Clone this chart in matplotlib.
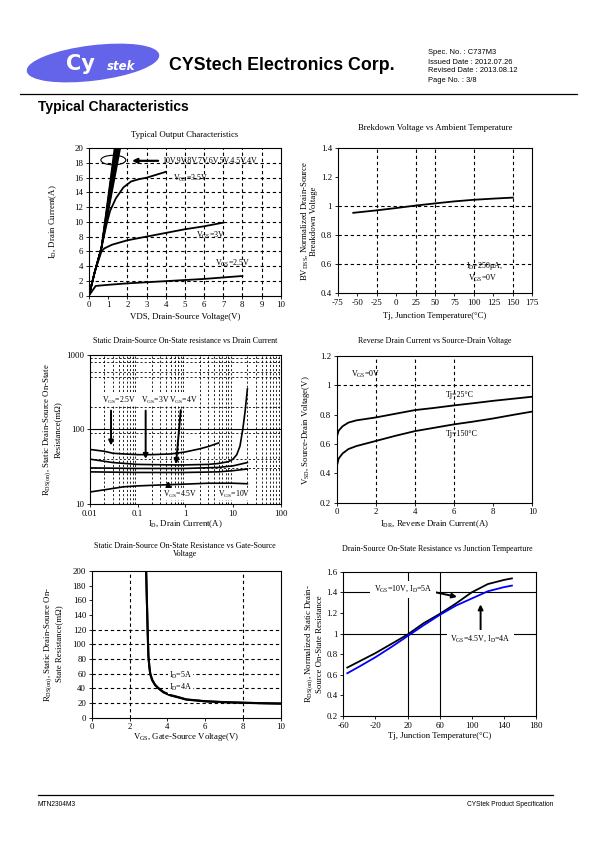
import numpy as np
import matplotlib
matplotlib.use('Agg')
import matplotlib.pyplot as plt
from matplotlib.patches import Ellipse

# 字体设置：图表用衬线体，页眉页脚用无衬线体
plt.rcParams['font.family'] = ['Liberation Serif', 'DejaVu Serif']
plt.rcParams['mathtext.fontset'] = 'custom'
plt.rcParams['mathtext.rm'] = 'Liberation Serif'
plt.rcParams['mathtext.it'] = 'Liberation Serif:italic'
plt.rcParams['mathtext.default'] = 'regular'
plt.rcParams['axes.unicode_minus'] = False

W, H = 595, 842

# ---------------- 数据 ----------------
# 1. Typical Output Characteristics
bundle_vds_start = [0, 0.3, 0.65]
bundle_id_start = [0, 3.2, 6.5]
bundle_vds_end = [1.33, 1.37, 1.41, 1.45, 1.49, 1.53, 1.58, 1.63]   # 10V ... 4V, 在 ID=20A 处
vds_35 = [0, 0.3, 0.65, 0.9, 1.1, 1.4, 1.8, 2.2, 2.6, 3.0, 3.5, 4.0]
id_35 = [0, 3.2, 6.5, 9.5, 11.5, 13.2, 14.7, 15.5, 15.8, 16.0, 16.4, 16.8]
vds_3 = [0, 0.3, 0.65, 0.8, 1.2, 2, 3, 4, 5, 6, 7]
id_3 = [0, 3.2, 6.0, 6.4, 6.9, 7.5, 8.0, 8.5, 9.0, 9.4, 9.9]
vds_25 = [0, 0.35, 1, 2, 3, 4, 5, 6, 7, 8]
id_25 = [0, 1.3, 1.45, 1.65, 1.8, 1.95, 2.1, 2.25, 2.45, 2.65]

# 2. Breakdown voltage vs temperature
tj_bv = [-55, -25, 0, 25, 50, 75, 100, 125, 150]
bv_norm = [0.955, 0.972, 0.988, 1.005, 1.02, 1.034, 1.045, 1.053, 1.06]

# 3. RDS(on) vs ID
id_r25 = [0.01, 0.02, 0.03, 0.05, 0.1, 0.2, 0.5, 1, 2, 3, 5]
r_25 = [54, 51, 48, 47, 46, 46, 47, 50, 55, 59, 66]
id_r3 = [0.01, 0.03, 0.1, 0.5, 1, 3, 5, 8, 10, 12, 14, 16, 18, 20]
r_3 = [40, 36, 34, 33.5, 33.5, 34, 35, 37, 40, 46, 60, 100, 180, 350]
id_r4 = [0.01, 0.1, 1, 5, 10, 20]
r_4 = [30.5, 30, 30, 31, 32.5, 36]
id_r45 = [0.01, 0.1, 1, 5, 10, 20]
r_45 = [27, 26.5, 26.5, 27, 28, 29.5]
id_r10 = [0.01, 0.02, 0.05, 0.1, 0.3, 1, 3, 10, 20]
r_10 = [14.5, 15.5, 17, 17.5, 18, 18.5, 19, 19, 18.7]

# 4. Reverse drain current vs VSD
idr = [0.01, 0.1, 0.3, 0.6, 1, 2, 3, 4, 5, 6, 7, 8, 9, 10]
vsd_25 = [0.65, 0.69, 0.72, 0.745, 0.76, 0.78, 0.805, 0.83, 0.845, 0.862, 0.877, 0.893, 0.907, 0.921]
vsd_150 = [0.45, 0.5, 0.535, 0.565, 0.585, 0.62, 0.655, 0.687, 0.71, 0.733, 0.752, 0.773, 0.797, 0.82]

# 5. RDS(on) vs VGS
vgs_r = [2.88, 2.92, 2.96, 3.0, 3.05, 3.1, 3.2, 3.35, 3.55, 3.8, 4.15, 4.6, 5.0, 6.0, 7.0, 8.0, 9.0, 10.0]
r_5a = [200, 160, 120, 85, 70, 60, 52, 45, 40, 35, 31, 28, 25, 22.5, 21.3, 20.5, 19.8, 19.3]
r_4a = [200, 158, 118, 83, 69, 59, 51, 44.5, 39.5, 34.5, 30.5, 27.5, 24.7, 22.3, 21.1, 20.3, 19.7, 19.2]

# 6. 归一化 RDS(on) vs Tj
tj_r = [-55, -40, -20, 0, 20, 40, 60, 80, 100, 120, 140, 150]
rn_10v = [0.67, 0.73, 0.81, 0.90, 0.99, 1.10, 1.19, 1.29, 1.40, 1.48, 1.52, 1.535]
rn_45v = [0.615, 0.68, 0.77, 0.87, 0.975, 1.08, 1.18, 1.27, 1.34, 1.41, 1.45, 1.465]


def px(x, y):
    '''像素坐标转换为 figure 坐标'''
    return x / W, 1 - y / H


def make_ax(fig, left, top, right, bottom):
    ax = fig.add_axes([left / W, 1 - bottom / H, (right - left) / W, (bottom - top) / H])
    for s in ax.spines.values():
        s.set_linewidth(0.8)
    ax.tick_params(labelsize=6.3, length=2, width=0.6, direction='out', pad=2)
    return ax


def label(fig, x, y, s, rot=0, size=6.3, **kw):
    fig.text(*px(x, y), s, rotation=rot, fontsize=size, ha='center', va='center', **kw)


def dgrid(ax, xs=(), ys=(), ls=(0, (3, 2.5)), lw=0.8):
    for v in xs:
        ax.axvline(v, color='black', lw=lw, ls=ls, zorder=1)
    for v in ys:
        ax.axhline(v, color='black', lw=lw, ls=ls, zorder=1)


fig = plt.figure(figsize=(W / 100, H / 100), dpi=100)

# ---------------- 页眉/页脚 ----------------
bg = fig.add_axes([0, 0, 1, 1])
bg.set_xlim(0, W)
bg.set_ylim(H, 0)
bg.axis('off')
bg.add_patch(Ellipse((93, 63), 132, 34, angle=-7, color='#6464EB'))
bg.text(80, 64, 'Cy', color='white', fontsize=15, fontweight='bold', family='DejaVu Sans',
        ha='center', va='center')
bg.text(121, 66, 'stek', color='white', fontsize=8.5, fontweight='bold', style='italic',
        family='DejaVu Sans', ha='center', va='center')
bg.text(169, 66, 'CYStech Electronics Corp.', fontsize=12.8, fontweight='bold',
        family='Liberation Sans', ha='left', va='center')
for i, s in enumerate(['Spec. No. : C737M3', 'Issued Date : 2012.07.26',
                       'Revised Date : 2013.08.12', 'Page No. : 3/8']):
    bg.text(428, 53 + i * 9, s, fontsize=5.4, family='Liberation Sans', ha='left', va='center')
bg.plot([20, 577], [94, 94], color='black', lw=0.9)
bg.text(38, 107, 'Typical Characteristics', fontsize=10, fontweight='bold',
        family='Liberation Sans', ha='left', va='center')
bg.plot([38, 553], [795, 795], color='black', lw=0.9)
bg.text(38, 804, 'MTN2304M3', fontsize=4.8, family='Liberation Sans', ha='left', va='center')
bg.text(553, 804, 'CYStek Product Specification', fontsize=4.8, family='Liberation Sans',
        ha='right', va='center')

# ---------------- 图1 ----------------
ax1 = make_ax(fig, 89, 148.3, 280.7, 295.5)
ax1.set_xlim(0, 10)
ax1.set_ylim(0, 20)
ax1.set_xticks(range(0, 11))
ax1.set_yticks(range(0, 21, 2))
dgrid(ax1, xs=range(2, 10), ys=range(2, 20, 2))
for v_end in bundle_vds_end:
    ax1.plot(bundle_vds_start + [v_end], bundle_id_start + [20], color='black', lw=1.1, zorder=3)
ax1.plot(vds_35, id_35, color='black', lw=1.3, zorder=3)
ax1.plot(vds_3, id_3, color='black', lw=1.3, zorder=3)
ax1.plot(vds_25, id_25, color='black', lw=1.3, zorder=3)
ax1.add_patch(Ellipse((1.27, 18.4), 1.3, 1.3, fill=False, color='black', lw=0.8, zorder=4))
ax1.annotate('', xy=(2.1, 18.3), xytext=(3.75, 18.3),
             arrowprops=dict(arrowstyle='-|>', color='black', lw=1.6, mutation_scale=7))
ax1.text(3.8, 18.3, '10V,9V,8V,7V,6V,5V,4.5V,4V', fontsize=5.8, va='center')
ax1.text(4.4, 15.9, r'V$_{GS}$=3.5V', fontsize=5.8, va='center')
ax1.text(5.6, 8.2, r'V$_{GS}$=3V', fontsize=5.8, va='center')
ax1.text(6.55, 4.4, r'V$_{GS}$=2.5V', fontsize=5.8, va='center')
label(fig, 185, 135, 'Typical Output Characteristics')
label(fig, 53, 222, r'I$_D$, Drain Current(A)', rot=90)
label(fig, 185, 317, 'VDS, Drain-Source Voltage(V)')

# ---------------- 图2 ----------------
ax2 = make_ax(fig, 337.7, 148.3, 532.3, 293.3)
ax2.set_xlim(-75, 175)
ax2.set_ylim(0.4, 1.4)
ax2.set_xticks(range(-75, 176, 25))
ax2.set_yticks([0.4, 0.6, 0.8, 1.0, 1.2, 1.4])
ax2.set_yticklabels(['0.4', '0.6', '0.8', '1', '1.2', '1.4'])
dgrid(ax2, xs=[-25, 25, 50, 100, 150], ys=[0.6, 0.8, 1.0])
ax2.plot(tj_bv, bv_norm, color='black', lw=1.3, zorder=3)
ax2.text(90, 0.59, r'I$_D$=250μA,', fontsize=5.8, va='center')
ax2.text(92, 0.505, r'V$_{GS}$=0V', fontsize=5.8, va='center')
label(fig, 435, 128, 'Brekdown Voltage vs Ambient Temperature')
label(fig, 309, 221, 'BV$_{DSS}$, Normalized Drain-Source\nBreakdown Voltage', rot=90,
      linespacing=1.0)
label(fig, 435, 316, 'Tj, Junction Temperature(°C)')

# ---------------- 图3 ----------------
ax3 = make_ax(fig, 90, 355, 280.7, 504)
ax3.set_xscale('log')
ax3.set_yscale('log')
ax3.set_xlim(0.01, 100)
ax3.set_ylim(10, 1000)
ax3.set_xticks([0.01, 0.1, 1, 10, 100])
ax3.set_xticklabels(['0.01', '0.1', '1', '10', '100'])
ax3.set_yticks([10, 100, 1000])
ax3.set_yticklabels(['10', '100', '1000'])
ax3.minorticks_off()
minor_x = [m * 10.0 ** d for d in (-2, -1, 0, 1) for m in range(2, 10)]
dgrid(ax3, xs=minor_x, ys=[30, 40, 90, 200, 500, 600, 800, 900], lw=0.6,
      ls=(0, (2.5, 2.5)))
ax3.axhline(100, color='black', lw=0.8)
ax3.plot(id_r25, r_25, color='black', lw=1.2, zorder=3)
ax3.plot(id_r3, r_3, color='black', lw=1.2, zorder=3)
ax3.plot(id_r4, r_4, color='black', lw=1.2, zorder=3)
ax3.plot(id_r45, r_45, color='black', lw=1.2, zorder=3)
ax3.plot(id_r10, r_10, color='black', lw=1.2, zorder=3)
arrow = dict(arrowstyle='-|>', color='black', lw=1.4, mutation_scale=7)
ax3.annotate('', xy=(0.0276, 56), xytext=(0.0276, 195), arrowprops=arrow)
ax3.annotate('', xy=(0.147, 37), xytext=(0.147, 195), arrowprops=arrow)
ax3.annotate('', xy=(0.63, 31.5), xytext=(0.81, 198), arrowprops=arrow)
ax3.annotate('', xy=(0.44, 22), xytext=(0.44, 16.8), arrowprops=arrow)
bbox = dict(facecolor='white', edgecolor='none', pad=0.5)
ax3.text(0.0178, 249, r'V$_{GS}$=2.5V', fontsize=5.6, va='center', bbox=bbox, zorder=5)
ax3.text(0.115, 249, r'V$_{GS}$=3V', fontsize=5.6, va='center', bbox=bbox, zorder=5)
ax3.text(0.46, 249, r'V$_{GS}$=4V', fontsize=5.6, va='center', bbox=bbox, zorder=5)
ax3.text(0.344, 13.6, r'V$_{GS}$=4.5V', fontsize=5.6, va='center', bbox=bbox, zorder=5)
ax3.text(4.9, 13.6, r'V$_{GS}$=10V', fontsize=5.6, va='center', bbox=bbox, zorder=5)
label(fig, 185, 341, 'Static Drain-Source On-State resistance vs Drain Current', size=5.8)
label(fig, 52, 430, 'R$_{DS(on)}$, Static Drain-Source On-State\nResistance(mΩ)', rot=90,
      linespacing=1.0)
label(fig, 185, 524, r'I$_D$, Drain Current(A)')

# ---------------- 图4 ----------------
ax4 = make_ax(fig, 336.7, 355.7, 532.3, 502.7)
ax4.set_xlim(0, 10)
ax4.set_ylim(0.2, 1.2)
ax4.set_xticks(range(0, 11, 2))
ax4.set_yticks([0.2, 0.4, 0.6, 0.8, 1.0, 1.2])
ax4.set_yticklabels(['0.2', '0.4', '0.6', '0.8', '1', '1.2'])
dgrid(ax4, xs=[2, 4, 6], ys=[1.0])
ax4.plot(idr, vsd_25, color='black', lw=1.3, zorder=3)
ax4.plot(idr, vsd_150, color='black', lw=1.3, zorder=3)
ax4.text(0.75, 1.07, r'V$_{GS}$=0V', fontsize=5.8, va='center')
ax4.text(5.6, 0.93, 'Tj=25°C', fontsize=5.8, va='center')
ax4.text(5.6, 0.667, 'Tj=150°C', fontsize=5.8, va='center')
label(fig, 435, 341, 'Reverse Drain Current vs Source-Drain Voltage', size=5.8)
label(fig, 306, 430, r'V$_{SD}$, Source-Drain Voltage(V)', rot=90)
label(fig, 435, 524, r'I$_{DR}$, Reverse Drain Current(A)')

# ---------------- 图5 ----------------
ax5 = make_ax(fig, 91.7, 571, 280.7, 717.7)
ax5.set_xlim(0, 10)
ax5.set_ylim(0, 200)
ax5.set_xticks(range(0, 11, 2))
ax5.set_yticks(range(0, 201, 20))
dgrid(ax5, xs=[2, 8], ys=[20, 40, 60, 80, 100, 120])
ax5.plot(vgs_r, r_5a, color='black', lw=1.5, zorder=3)
ax5.plot(vgs_r, r_4a, color='black', lw=1.5, zorder=3)
ax5.text(4.1, 57, r'I$_D$=5A', fontsize=5.8, va='center', bbox=bbox, zorder=5)
ax5.text(4.1, 41, r'I$_D$=4A', fontsize=5.8, va='center', bbox=bbox, zorder=5)
label(fig, 185, 550, 'Static Drain-Source On-State Resistance vs Gate-Source\nVoltage',
      size=5.8, linespacing=1.1)
label(fig, 53, 644, 'R$_{DS(on)}$, Static Drain-Source On-\nState Resistance(mΩ)', rot=90,
      linespacing=1.0)
label(fig, 186, 737, r'V$_{GS}$, Gate-Source Voltage(V)')

# ---------------- 图6 ----------------
ax6 = make_ax(fig, 343.3, 571.7, 536, 716)
ax6.set_xlim(-60, 180)
ax6.set_ylim(0.2, 1.6)
ax6.set_xticks(range(-60, 181, 40))
ax6.set_yticks([0.2, 0.4, 0.6, 0.8, 1.0, 1.2, 1.4, 1.6])
ax6.set_yticklabels(['0.2', '0.4', '0.6', '0.8', '1', '1.2', '1.4', '1.6'])
dgrid(ax6, xs=[20, 60], ys=[1.0, 1.4], ls='-', lw=0.8)
ax6.plot(tj_r, rn_10v, color='black', lw=1.3, zorder=3)
ax6.plot(tj_r, rn_45v, color='blue', lw=1.3, zorder=3)
bbox2 = dict(facecolor='white', edgecolor='none', pad=2.5)
ax6.text(-22, 1.43, r'V$_{GS}$=10V, I$_D$=5A', fontsize=5.8, va='center', bbox=bbox2, zorder=5)
ax6.annotate('', xy=(85, 1.35), xytext=(52, 1.405), arrowprops=arrow)
ax6.text(73, 0.95, r'V$_{GS}$=4.5V, I$_D$=4A', fontsize=5.8, va='center', bbox=bbox2, zorder=5)
ax6.annotate('', xy=(111, 1.31), xytext=(111, 0.985), arrowprops=arrow)
label(fig, 437, 549, 'Drain-Source On-State Resistance vs Junction Tempearture', size=5.8)
label(fig, 314, 644, 'R$_{DS(on)}$, Normalized Static Drain-\nSource On-State Resistance', rot=90,
      linespacing=1.0)
label(fig, 440, 736, 'Tj, Junction Temperature(°C)')

fig.savefig('out.png', dpi=100)
